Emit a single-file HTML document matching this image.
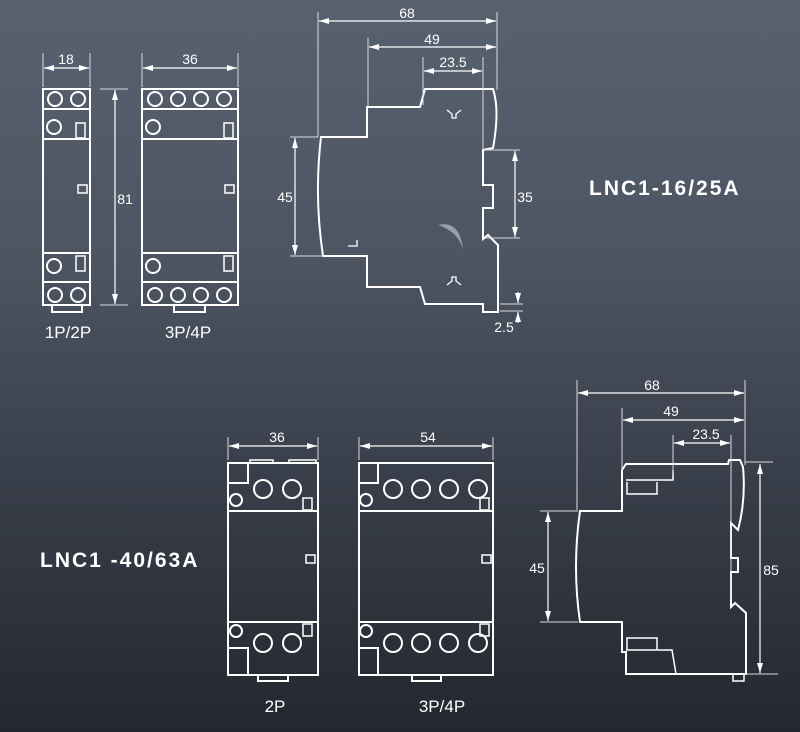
<!DOCTYPE html>
<html><head><meta charset="utf-8"><style>
html,body{margin:0;padding:0;width:800px;height:732px;overflow:hidden}
body{background:linear-gradient(180deg,#58616f 0%,#4d5563 35%,#393f4a 65%,#23272f 100%)}
svg{display:block}
text{font-family:"Liberation Sans",sans-serif;fill:#fff}
</style></head><body>
<svg width="800" height="732" viewBox="0 0 800 732" xmlns="http://www.w3.org/2000/svg">
<defs>
<marker id="a" viewBox="0 0 10 6" refX="10" refY="3" markerWidth="10" markerHeight="6" orient="auto-start-reverse" markerUnits="userSpaceOnUse"><path d="M0,0L10,3L0,6z" fill="#fff"/></marker>
</defs>
<g fill="none" stroke="#fff" stroke-width="2">
<rect x="43" y="89" width="47" height="216"/>
<path d="M43 109H90M43 139H90M43 253H90M43 282H90"/>
<circle cx="55" cy="99" r="7"/><circle cx="78" cy="99" r="7"/>
<circle cx="55" cy="295" r="7"/><circle cx="78" cy="295" r="7"/>
<circle cx="54" cy="127" r="7"/><circle cx="54" cy="266" r="7"/>
<rect x="76" y="123" width="9" height="15" stroke-width="1.5"/>
<rect x="76" y="256" width="9" height="15" stroke-width="1.5"/>
<rect x="78" y="185" width="9" height="8" stroke-width="1.5"/>
<path d="M52 305V312H82V305"/>
<rect x="142" y="89" width="96" height="216"/>
<path d="M142 109H238M142 139H238M142 253H238M142 282H238"/>
<circle cx="155" cy="99" r="7"/><circle cx="178" cy="99" r="7"/><circle cx="201" cy="99" r="7"/><circle cx="224" cy="99" r="7"/>
<circle cx="155" cy="295" r="7"/><circle cx="178" cy="295" r="7"/><circle cx="201" cy="295" r="7"/><circle cx="224" cy="295" r="7"/>
<circle cx="153" cy="127" r="7"/><circle cx="153" cy="266" r="7"/>
<rect x="224" y="123" width="9" height="15" stroke-width="1.5"/>
<rect x="224" y="256" width="9" height="15" stroke-width="1.5"/>
<rect x="225" y="185" width="9" height="8" stroke-width="1.5"/>
<path d="M174 305V312H205V305"/>
<path d="M321 137H367V107H420L425 89H493Q500 110 493 148L483 150V185H493V208H483V239L488 235L498 245V312H483V304H425L420 287H367V256H323Q314 197 321 137Z"/>
<path d="M348 246H357V240" stroke-width="1.3"/>
<path d="M447 110l5 4v4h4v-4l5-4M447 285l5-4v-4h4v4l5 4" stroke-width="1.3"/>
<rect x="228" y="463" width="90" height="212"/>
<path d="M250 463V460H273V463M289 463V460H316V463" stroke-width="1.5"/>
<path d="M228 511H318M228 622H318M228 483H248V463M228 648H248V675"/>
<circle cx="263" cy="489" r="9"/><circle cx="292" cy="489" r="9"/>
<circle cx="263" cy="643" r="9"/><circle cx="292" cy="643" r="9"/>
<circle cx="236" cy="500" r="6"/><circle cx="236" cy="631" r="6"/>
<rect x="303" y="498" width="9" height="12" stroke-width="1.5"/>
<rect x="303" y="624" width="9" height="12" stroke-width="1.5"/>
<rect x="306" y="555" width="9" height="8" stroke-width="1.5"/>
<path d="M258 675V681H288V675"/>
<rect x="359" y="463" width="134" height="212"/>
<path d="M359 511H493M359 622H493M359 483H378V463M359 648H378V675"/>
<circle cx="393" cy="489" r="9"/><circle cx="421" cy="489" r="9"/><circle cx="449" cy="489" r="9"/><circle cx="478" cy="489" r="9"/>
<circle cx="393" cy="643" r="9"/><circle cx="421" cy="643" r="9"/><circle cx="449" cy="643" r="9"/><circle cx="478" cy="643" r="9"/>
<circle cx="366" cy="500" r="6"/><circle cx="366" cy="631" r="6"/>
<rect x="480" y="498" width="9" height="12" stroke-width="1.5"/>
<rect x="480" y="624" width="9" height="12" stroke-width="1.5"/>
<rect x="482" y="555" width="9" height="8" stroke-width="1.5"/>
<path d="M412 675V681H441V675"/>
<path d="M580 511H622V470L626 464H728L729 460H740L743 467Q746 500 738 530L731 523V558H738V572H731V607L735 603L746 613V674H626V652L622 652V622H580Q572 567 580 511Z"/>
<path d="M626 480H673V470M627 482V494H657V482M626 650H672L676 674M627 650V638H657V650" stroke-width="1.5"/>
<path d="M733 674V681H744V674" stroke-width="1.5"/>
</g>
<path d="M438 225Q460 220 463 250Q459 232 438 225Z" fill="#9aa0aa"/>
<g stroke="#d8dbe0" stroke-width="1" fill="none">
<path d="M43 53V87M90 53V87M142 53V87M238 53V87M100 89H128M100 305H128"/>
<path d="M318 12V137M497 12V90M368 38V106M423 57V105M483 57V150M290 137H318M290 256H323M485 150H520M485 238H520M500 304H523M500 311H523"/>
<path d="M577 380V510M745 380V465M622 408V470M673 435V475M731 435V600M540 511H578M540 622H578M745 462H773M745 674H778"/>
<path d="M228 437V460M318 437V460M359 437V460M493 437V460"/>
</g>
<g stroke="#fff" stroke-width="1.2" marker-start="url(#a)" marker-end="url(#a)">
<line x1="44" y1="68" x2="89" y2="68"/>
<line x1="143" y1="68" x2="237" y2="68"/>
<line x1="115" y1="90" x2="115" y2="304"/>
<line x1="319" y1="21" x2="496" y2="21"/>
<line x1="369" y1="47" x2="496" y2="47"/>
<line x1="424" y1="71" x2="482" y2="71"/>
<line x1="295" y1="138" x2="295" y2="255"/>
<line x1="515" y1="151" x2="515" y2="237"/>
<line x1="578" y1="393" x2="744" y2="393"/>
<line x1="623" y1="420" x2="744" y2="420"/>
<line x1="674" y1="443" x2="730" y2="443"/>
<line x1="548" y1="512" x2="548" y2="621"/>
<line x1="760" y1="464" x2="760" y2="673"/>
<line x1="229" y1="446" x2="317" y2="446"/>
<line x1="360" y1="446" x2="492" y2="446"/>
</g>
<g stroke="#fff" stroke-width="1.2" marker-end="url(#a)">
<line x1="518" y1="292" x2="518" y2="303"/>
<line x1="518" y1="323" x2="518" y2="312"/>
</g>
<g font-size="14" text-anchor="middle">
<text x="66" y="64">18</text><text x="190" y="64">36</text>
<text x="125" y="204">81</text>
<text x="407" y="18">68</text><text x="432" y="44">49</text><text x="453" y="67">23.5</text>
<text x="285" y="202">45</text><text x="525" y="202">35</text><text x="504" y="332">2.5</text>
<text x="652" y="390">68</text><text x="671" y="416">49</text><text x="706" y="439">23.5</text>
<text x="537" y="573">45</text><text x="771" y="575">85</text>
<text x="277" y="442">36</text><text x="428" y="442">54</text>
</g>
<g font-size="17" text-anchor="middle">
<text x="68" y="338">1P/2P</text><text x="188" y="338">3P/4P</text>
<text x="275" y="712">2P</text><text x="442" y="712">3P/4P</text>
</g>
<g font-size="21" font-weight="bold" letter-spacing="2">
<text x="589" y="195">LNC1-16/25A</text>
<text x="40" y="567">LNC1 -40/63A</text>
</g>
</svg>
</body></html>
